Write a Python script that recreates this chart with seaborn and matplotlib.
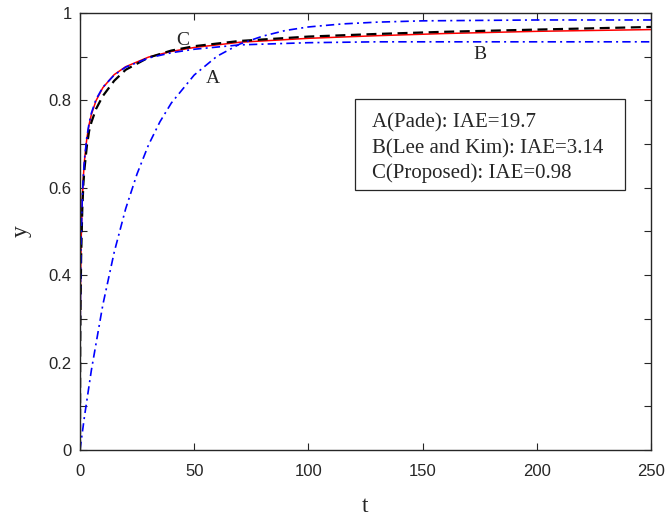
import matplotlib
matplotlib.use("Agg")
import matplotlib.pyplot as plt
from matplotlib.patches import Rectangle
import seaborn as sns

# values
t_proc = [0, 0.1, 0.25, 0.5, 1, 1.5, 2, 3, 4, 5, 7, 10, 15, 20, 30, 40, 50, 70, 100, 130, 160, 200, 250]
y_proc = [0, 0.276, 0.384, 0.477, 0.572, 0.627, 0.664, 0.713, 0.745, 0.768, 0.799, 0.829, 0.859,
          0.877, 0.899, 0.912, 0.921, 0.933, 0.942, 0.948, 0.953, 0.958, 0.962]

t_c = [0, 0.1, 0.25, 0.5, 1, 1.5, 2, 3, 4, 5, 7, 10, 15, 20, 30, 40, 50, 70, 100, 130, 160, 200, 250]
y_c = [0, 0.24, 0.33, 0.44, 0.55, 0.61, 0.645, 0.695, 0.73, 0.75, 0.78, 0.81, 0.845,
       0.87, 0.898, 0.914, 0.924, 0.936, 0.946, 0.952, 0.957, 0.962, 0.968]

t_b = [0, 0.1, 0.25, 0.5, 1, 1.5, 2, 3, 4, 5, 7, 10, 15, 20, 30, 40, 50, 70, 100, 130, 160, 200, 250]
y_b = [0, 0.28, 0.38, 0.48, 0.575, 0.63, 0.667, 0.716, 0.748, 0.771, 0.802, 0.83, 0.858,
       0.876, 0.897, 0.909, 0.917, 0.927, 0.932, 0.934, 0.934, 0.934, 0.934]

t_a = [0, 2, 5, 10, 15, 20, 25, 30, 35, 40, 50, 60, 70, 80, 90, 100, 115, 130, 150, 175, 200, 250]
y_a = [0, 0.078, 0.183, 0.332, 0.453, 0.552, 0.632, 0.698, 0.751, 0.794, 0.858, 0.901, 0.929,
       0.947, 0.960, 0.968, 0.975, 0.979, 0.982, 0.983, 0.984, 0.984]

legend_lines = ["A(Pade): IAE=19.7", "B(Lee and Kim): IAE=3.14", "C(Proposed): IAE=0.98"]

sns.set_style("ticks")
plt.rcParams["font.family"] = ["Liberation Sans", "DejaVu Sans"]

fig = plt.figure(figsize=(6.71, 5.19), dpi=100)
ax = fig.add_axes([0.1192, 0.133, 0.851, 0.842])

sns.lineplot(x=t_proc, y=y_proc, ax=ax, color="red", lw=1.1, estimator=None)
sns.lineplot(x=t_c, y=y_c, ax=ax, color="black", lw=1.6, linestyle=(0, (4.5, 2.5)), estimator=None)
sns.lineplot(x=t_b, y=y_b, ax=ax, color="blue", lw=1.2, linestyle=(0, (5, 2.5, 1.2, 2.5)), estimator=None)
sns.lineplot(x=t_a, y=y_a, ax=ax, color="blue", lw=1.2, linestyle=(0, (5, 2.5, 1.2, 2.5)), estimator=None)

ax.set_xlim(0, 250)
ax.set_ylim(0, 1)
ax.set_xticks([0, 50, 100, 150, 200, 250])
ax.set_yticks([i / 10 for i in range(11)])
ax.set_yticklabels(["0", "", "0.2", "", "0.4", "", "0.6", "", "0.8", "", "1"])
ax.tick_params(direction="in", length=5, width=0.8, top=True, right=True, labelsize=12, colors="#262626")
ax.tick_params(axis="x", pad=10)
ax.tick_params(axis="y", pad=6)
for s in ax.spines.values():
    s.set_color("#262626")
    s.set_linewidth(1.0)

serif = ["Liberation Serif", "DejaVu Serif"]
ax.set_xlabel("t", family=serif, fontsize=17, labelpad=12)
ax.set_ylabel("y", family=serif, fontsize=17, labelpad=12)

ax.text(45, 0.938, "C", family=serif, fontsize=14, ha="center", va="center")
ax.text(58, 0.851, "A", family=serif, fontsize=14, ha="center", va="center")
ax.text(175, 0.904, "B", family=serif, fontsize=14, ha="center", va="center")

ax.add_patch(Rectangle((0.482, 0.595), 0.472, 0.208, transform=ax.transAxes,
                       fill=False, lw=0.9, edgecolor="#262626"))
for yy, txt in zip([0.748, 0.690, 0.633], legend_lines):
    ax.text(0.511, yy, txt, transform=ax.transAxes, family=serif, fontsize=15, va="center", ha="left")

fig.savefig("out.png", dpi=100)
